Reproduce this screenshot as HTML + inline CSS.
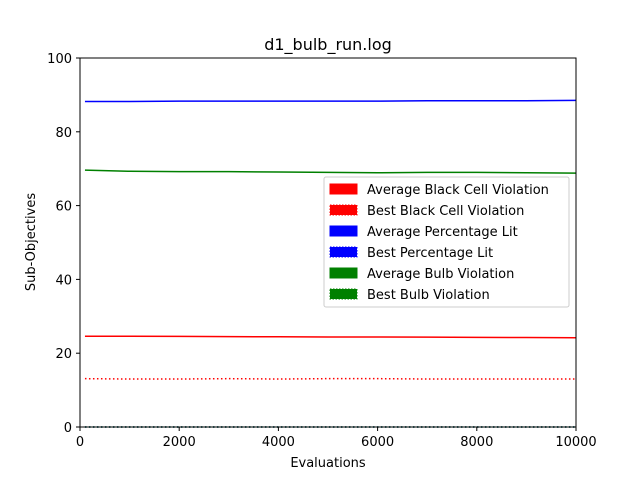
<!DOCTYPE html>
<html><head><meta charset="utf-8"><style>
body{margin:0;background:#fff;font-family:"Liberation Sans","DejaVu Sans",sans-serif}
svg text{font-family:"DejaVu Sans","Liberation Sans",sans-serif;font-size:13px}
</style></head><body>
<svg id="c" width="640" height="480">
<rect width="640" height="480" fill="#fff"/>
<text x="328" y="50" text-anchor="middle" font-size="16" style="font-size:16px">d1_bulb_run.log</text>
<g id="plot"></g>
<rect x="80" y="58" width="496" height="369" fill="none" stroke="#000" stroke-width="1"/>
<g id="axes"></g>
<text x="328" y="467" text-anchor="middle">Evaluations</text>
<text transform="translate(35,242) rotate(-90)" text-anchor="middle">Sub-Objectives</text>
<g id="legend"></g>
</svg>
<script>
const xEvals=[100,1000,2000,3000,4000,5000,6000,7000,8000,9000,10000];
const avgBlack=[24.6,24.6,24.55,24.5,24.45,24.4,24.4,24.35,24.3,24.25,24.2];
const bestBlack=[13.1,13.0,13.0,13.1,13.0,13.1,13.1,13.0,13.0,13.0,13.0];
const avgLit=[88.2,88.2,88.3,88.3,88.3,88.3,88.3,88.4,88.4,88.4,88.5];
const bestLit=[0,0,0,0,0,0,0,0,0,0,0];
const avgBulb=[69.6,69.3,69.2,69.2,69.1,69.0,68.9,69.0,69.0,68.9,68.8];
const bestBulb=[0,0,0,0,0,0,0,0,0,0,0];
const xTicks=[0,2000,4000,6000,8000,10000];
const yTicks=[0,20,40,60,80,100];
const NS='http://www.w3.org/2000/svg';
const X=v=>80+v/10000*496, Y=v=>427-v/100*369;
function mk(t,a,p){const e=document.createElementNS(NS,t);for(const k in a)e.setAttribute(k,a[k]);p.appendChild(e);return e;}
const plot=document.getElementById('plot');
const series=[[bestLit,'#0000ff',true,'best-percentage-lit-line'],[avgBlack,'#ff0000',false,'avg-black-cell-line'],[bestBlack,'#ff0000',true,'best-black-cell-line'],[avgLit,'#0000ff',false,'avg-percentage-lit-line'],[avgBulb,'#008000',false,'avg-bulb-line'],[bestBulb,'#008000',true,'best-bulb-line']];
series.forEach(s=>{const p=mk('polyline',{points:xEvals.map((x,i)=>X(x)+','+Y(s[0][i])).join(' '),fill:'none',stroke:s[1],'stroke-width':1.5,'stroke-dasharray':s[2]?'1.5,2.5':'none'},plot);

});
const ax=document.getElementById('axes');
xTicks.forEach(t=>{mk('line',{x1:X(t),x2:X(t),y1:427,y2:431,stroke:'#000'},ax);const e=mk('text',{x:X(t),y:446,'text-anchor':'middle'},ax);e.textContent=t;

});
yTicks.forEach(t=>{mk('line',{x1:76,x2:80,y1:Y(t),y2:Y(t),stroke:'#000'},ax);const e=mk('text',{x:72,y:Y(t)+5,'text-anchor':'end'},ax);e.textContent=t;

});
const lg=document.getElementById('legend');
mk('rect',{x:324,y:177,width:245,height:130,rx:2,fill:'#fff','fill-opacity':0.8,stroke:'#ccc'},lg);
const labels=['Average Black Cell Violation','Best Black Cell Violation','Average Percentage Lit','Best Percentage Lit','Average Bulb Violation','Best Bulb Violation'];
const cols=['#ff0000','#ff0000','#0000ff','#0000ff','#008000','#008000'];
labels.forEach((l,i)=>{const y=189+i*21;
mk('rect',{x:330,y:y-5,width:27,height:10,fill:cols[i],stroke:cols[i],'stroke-dasharray':i%2?'1.5,1.5':'none'},lg);
const e=mk('text',{x:367,y:y+5},lg);e.textContent=l;

});
</script>
</body></html>
